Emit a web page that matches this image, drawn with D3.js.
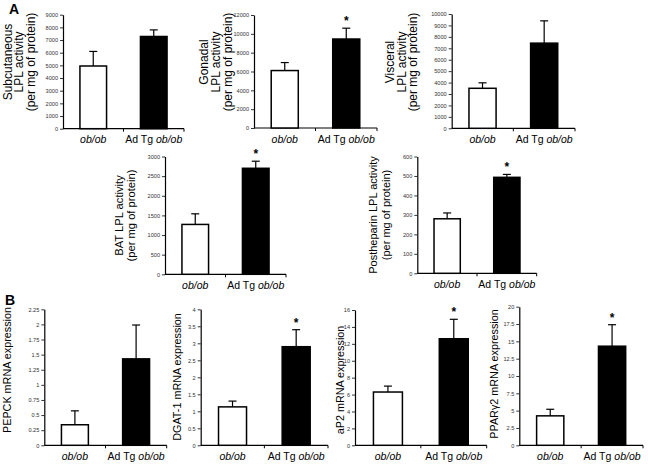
<!DOCTYPE html>
<html><head><meta charset="utf-8">
<script src="https://cdn.jsdelivr.net/npm/d3@7"></script>
<style>body{margin:0;background:#fff} svg{display:block;font-family:"Liberation Sans",Arial,Helvetica,sans-serif}</style>
</head><body><svg id="c" width="648" height="464"></svg>
<script>
// ---- data ----
const categories = ["ob/ob", "Ad Tg ob/ob"];
const panelTitles = [
  ["Subcutaneous", "LPL activity", "(per mg of protein)"],
  ["Gonadal", "LPL activity", "(per mg of protein)"],
  ["Visceral", "LPL activity", "(per mg of protein)"],
  ["BAT LPL activity", "(per mg of protein)"],
  ["Postheparin LPL activity", "(per mg of protein)"],
  ["PEPCK mRNA expression"],
  ["DGAT-1 mRNA expression"],
  ["aP2 mRNA expression"],
  ["PPARγ2 mRNA expression"]
];
const obobMean = [4950, 6100, 3500, 1270, 280, 0.34, 1.13, 6.3, 4.25];
const obobErr  = [1150, 850, 480, 270, 30, 0.23, 0.17, 0.7, 0.95];
const adTgMean = [7280, 9450, 7450, 2700, 493, 1.43, 2.9, 12.6, 14.3];
const adTgErr  = [520, 1150, 1950, 180, 15, 0.56, 0.5, 2.3, 3.1];
const significant = [false, true, false, true, true, false, true, true, true];
const yMax  = [9000, 12000, 10000, 3000, 600, 2.25, 4, 16, 20];
const yStep = [1000, 2000, 1000, 500, 100, 0.25, 0.5, 2, 2.5];
const sectionLabels = ["A", "B"];

// ---- layout (positions only) ----
const layout = [
  {x0:63,   x1:184,   yTop:14.7,  yBot:128.7, lab:[11.5,23,34.5],   cy:62,    fs:12},
  {x0:254,  x1:377,   yTop:15,    yBot:128,   lab:[208,220,232],    cy:62,    fs:12},
  {x0:451.7,x1:575,   yTop:14,    yBot:128.3, lab:[394,405.5,417],  cy:62,    fs:12},
  {x0:165,  x1:286,   yTop:156.5, yBot:274.3, lab:[123,135],        cy:215.5, fs:11.2},
  {x0:417.3,x1:536.7, yTop:156.5, yBot:273.3, lab:[377,390],        cy:215,   fs:11},
  {x0:44.3, x1:166.7, yTop:309.3, yBot:445.3, lab:[11],             cy:370,   fs:10.8},
  {x0:200.7,x1:328,   yTop:309.3, yBot:445.3, lab:[181],            cy:377,   fs:10.8},
  {x0:355,  x1:486.7, yTop:310,   yBot:445.3, lab:[344],            cy:380,   fs:10.8},
  {x0:519.3,x1:643,   yTop:306.7, yBot:445.3, lab:[498],            cy:374,   fs:10.8}
];
const sectionPos = [{x:9, y:14}, {x:5, y:305}];

const svg = d3.select("#c");
svg.append("rect").attr("width",648).attr("height",464).attr("fill","#fff");

sectionLabels.forEach((s,i)=>{
  svg.append("text").attr("x",sectionPos[i].x).attr("y",sectionPos[i].y)
    .attr("font-size",14).attr("font-weight","bold").text(s);
});

layout.forEach((L,i)=>{
  const g = svg.append("g");
  const y = d3.scaleLinear().domain([0,yMax[i]]).range([L.yBot, L.yTop]);
  const x = d3.scaleBand().domain(categories).range([L.x0, L.x1]).paddingInner(0.56).paddingOuter(0.28);
  const ticks = d3.range(0, Math.round(yMax[i]/yStep[i])+1).map(k=>+(k*yStep[i]).toFixed(4));

  // y axis
  const ya = g.append("g").attr("transform",`translate(${L.x0},0)`)
    .call(d3.axisLeft(y).tickValues(ticks).tickSize(3).tickSizeOuter(0).tickPadding(2).tickFormat(d3.format("")));
  ya.select(".domain").attr("stroke","#000").attr("stroke-width",1.2);
  ya.selectAll(".tick line").attr("stroke","#000").attr("stroke-width",0.8);
  ya.selectAll(".tick text").attr("font-size",5.6).attr("fill","#333").attr("font-family",null);

  // x axis
  const mid = (L.x0+L.x1)/2;
  g.append("line").attr("x1",L.x0).attr("x2",L.x1).attr("y1",L.yBot).attr("y2",L.yBot)
    .attr("stroke","#000").attr("stroke-width",1.2);
  [mid, L.x1].forEach(tx=>{
    g.append("line").attr("x1",tx).attr("x2",tx).attr("y1",L.yBot).attr("y2",L.yBot+3)
      .attr("stroke","#000").attr("stroke-width",1);
  });

  const rows = [
    {cat:categories[0], mean:obobMean[i], err:obobErr[i], fill:"#fff", star:false},
    {cat:categories[1], mean:adTgMean[i], err:adTgErr[i], fill:"#000", star:significant[i]}
  ];
  const bw = x.bandwidth();
  rows.forEach(r=>{
    const cx = x(r.cat)+bw/2;
    // error bar
    g.append("line").attr("x1",cx).attr("x2",cx).attr("y1",y(r.mean)).attr("y2",y(r.mean+r.err))
      .attr("stroke","#000").attr("stroke-width",1.2);
    g.append("line").attr("x1",cx-4).attr("x2",cx+4).attr("y1",y(r.mean+r.err)).attr("y2",y(r.mean+r.err))
      .attr("stroke","#000").attr("stroke-width",1.2);
    g.append("rect").attr("x",x(r.cat)).attr("y",y(r.mean)).attr("width",bw).attr("height",L.yBot-y(r.mean))
      .attr("fill",r.fill).attr("stroke","#000").attr("stroke-width",1.5);
    if(r.star){
      g.append("text").attr("x",cx).attr("y",y(r.mean+r.err)-3).attr("text-anchor","middle")
        .attr("font-size",12).attr("font-weight","bold").text("*");
    }
    // category label
    const t = g.append("text").attr("x",cx).attr("y",L.yBot+14.5).attr("text-anchor","middle").attr("font-size",10.5);
    r.cat.split(/(\S*\/\S*)/).filter(s=>s.length).forEach(part=>{
      t.append("tspan").attr("font-style", part.includes("/") ? "italic" : "normal").text(part);
    });
  });

  // y label
  panelTitles[i].forEach((line,j)=>{
    g.append("text").attr("transform",`translate(${L.lab[j]},${L.cy}) rotate(-90)`)
      .attr("text-anchor","middle").attr("font-size",L.fs).text(line);
  });
});
</script></body></html>
